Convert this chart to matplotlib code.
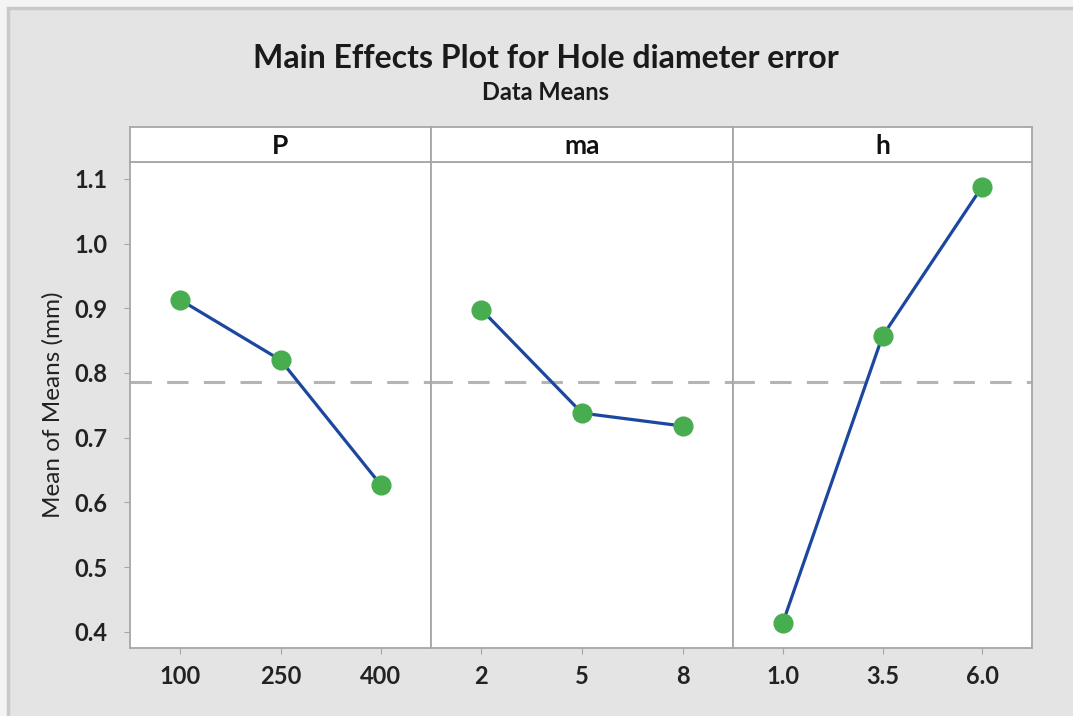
import matplotlib
matplotlib.use("Agg")
import matplotlib.pyplot as plt
from matplotlib.patches import Rectangle

# ---- data ----
factors = ["P", "ma", "h"]
levels_P = ["100", "250", "400"]
levels_ma = ["2", "5", "8"]
levels_h = ["1.0", "3.5", "6.0"]
means_P = [0.913, 0.820, 0.627]
means_ma = [0.898, 0.738, 0.718]
means_h = [0.414, 0.857, 1.088]
grand_mean = 0.786
y_ticks = [0.4, 0.5, 0.6, 0.7, 0.8, 0.9, 1.0, 1.1]

title = "Main Effects Plot for Hole diameter error"
subtitle = "Data Means"
ylabel = "Mean of Means (mm)"

FONT = ["Lato", "DejaVu Sans"]
plt.rcParams["font.family"] = FONT

W, H = 1073, 716
fig = plt.figure(figsize=(W / 100, H / 100), dpi=100)
fig.patch.set_facecolor("#f4f4f4")
fig.add_artist(Rectangle((8 / W, -0.01), 1.0, 1 - 8 / H + 0.01, transform=fig.transFigure,
                         facecolor="#e4e4e4", edgecolor="#c9c9c9", linewidth=2.5,
                         zorder=-10))

fig.text(546 / W, 1 - 58 / H, title, ha="center", va="center", fontsize=23,
         color="#1a1a1a", fontweight="bold", zorder=5)
fig.text(545 / W, 1 - 93 / H, subtitle, ha="center", va="center", fontsize=17,
         color="#1a1a1a", fontweight="bold", zorder=5)

left_px, right_px = 130, 1032
top_px, bot_px = 162, 648
head_top_px = 127
seps = [left_px, 431, 733, right_px]

levels_all = [levels_P, levels_ma, levels_h]
means_all = [means_P, means_ma, means_h]

edge = "#a6a6a6"
ylim = (0.375, 1.126)

axes = []
for i in range(3):
    x0 = seps[i] / W
    w = (seps[i + 1] - seps[i]) / W
    ax = fig.add_axes([x0, 1 - bot_px / H, w, (bot_px - top_px) / H])
    ax.set_facecolor("white")
    xs = list(range(len(levels_all[i])))
    ax.axhline(grand_mean, color="#b4b4b4", linestyle=(0, (7, 5)), linewidth=2.2, zorder=1)
    ax.plot(xs, means_all[i], color="#1b479e", linewidth=2.3, zorder=2)
    ax.plot(xs, means_all[i], linestyle="none", marker="o", markersize=13.5,
            markerfacecolor="#48ad4e", markeredgecolor="#48ad4e", zorder=3)
    ax.set_xlim(-0.5, 2.5)
    ax.set_ylim(*ylim)
    ax.set_xticks(xs)
    ax.set_xticklabels(levels_all[i], fontsize=17, color="#222222", fontweight="bold")
    ax.tick_params(axis="x", length=4, color=edge, pad=8)
    if i == 0:
        ax.set_yticks(y_ticks)
        ax.set_yticklabels([f"{v:.1f}" for v in y_ticks], fontsize=17, color="#222222",
                           fontweight="bold")
        ax.tick_params(axis="y", length=4, color=edge, pad=12)
        ax.set_ylabel(ylabel, fontsize=17.5, color="#222222", labelpad=8)
    else:
        ax.set_yticks([])
    for s in ax.spines.values():
        s.set_color(edge)
        s.set_linewidth(1.3)
    axes.append(ax)

    hx = fig.add_axes([x0, 1 - top_px / H, w, (top_px - head_top_px) / H])
    hx.set_facecolor("white")
    hx.set_xticks([])
    hx.set_yticks([])
    for s in hx.spines.values():
        s.set_color(edge)
        s.set_linewidth(1.3)
    hx.text(0.5, 0.45, factors[i], ha="center", va="center", fontsize=19,
            fontweight="bold", color="#111111", transform=hx.transAxes)

fig.savefig("out.png", dpi=100, facecolor=fig.get_facecolor())
